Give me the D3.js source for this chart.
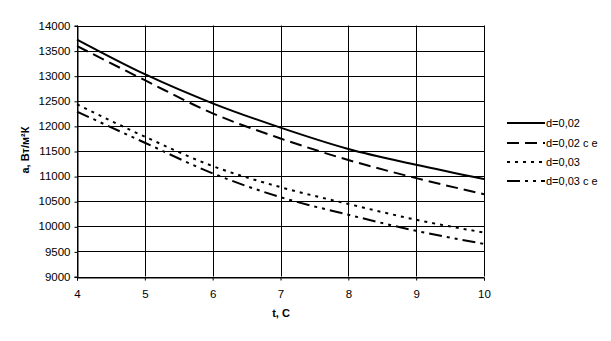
<!DOCTYPE html>
<html>
<head>
<meta charset="utf-8">
<script src="https://cdn.jsdelivr.net/npm/d3@7"></script>
<style>
  body { margin: 0; background: #fff; }
  text { font-family: "Liberation Sans", Arial, sans-serif; }
</style>
</head>
<body>
<div id="chart"></div>
<script>
// data
var tValues = [4, 5, 6, 7, 8, 9, 10];
var d002 = [13720, 13030, 12450, 11965, 11540, 11225, 10940];
var d002ce = [13590, 12910, 12250, 11750, 11320, 10960, 10640];
var d003 = [12430, 11785, 11200, 10780, 10445, 10130, 9875];
var d003ce = [12285, 11665, 11055, 10580, 10230, 9910, 9650];
var seriesNames = ['d=0,02', 'd=0,02 c e', 'd=0,03', 'd=0,03 c e'];
var yTicks = [9000, 9500, 10000, 10500, 11000, 11500, 12000, 12500, 13000, 13500, 14000];

var width = 611, height = 341;
var margin = {left: 77, right: 127, top: 25.5, bottom: 64.5};

var svg = d3.select('#chart').append('svg').attr('width', width).attr('height', height);

var x = d3.scaleLinear().domain([4, 10]).range([margin.left, width - margin.right]);
var y = d3.scaleLinear().domain([9000, 14000]).range([height - margin.bottom, margin.top]);

// grid
svg.append('g').selectAll('line.h').data(yTicks).enter().append('line')
  .attr('x1', x(4)).attr('x2', x(10))
  .attr('y1', function(d) { return Math.round(y(d)) + 0.5; })
  .attr('y2', function(d) { return Math.round(y(d)) + 0.5; })
  .attr('stroke', '#000').attr('stroke-width', 1);
svg.append('g').selectAll('line.v').data(tValues).enter().append('line')
  .attr('x1', function(d) { return Math.round(x(d)) + 0.5; })
  .attr('x2', function(d) { return Math.round(x(d)) + 0.5; })
  .attr('y1', y(14000)).attr('y2', y(9000))
  .attr('stroke', '#000').attr('stroke-width', 1);

// axes
var yAxis = d3.axisLeft(y).tickValues(yTicks).tickSize(3).tickPadding(4).tickFormat(d3.format('d'));
var xAxis = d3.axisBottom(x).tickValues(tValues).tickSize(3).tickPadding(9).tickFormat(d3.format('d'));
var gy = svg.append('g').attr('transform', 'translate(' + (Math.round(x(4)) + 0.5) + ',0)').call(yAxis);
var gx = svg.append('g').attr('transform', 'translate(0,' + (Math.round(y(9000)) + 0.5) + ')').call(xAxis);
[gy, gx].forEach(function(g) {
  g.select('.domain').attr('stroke', '#000');
  g.selectAll('.tick line').attr('stroke', '#000');
  g.selectAll('.tick text').attr('fill', '#000').style('font-size', '11.5px')
    .style('font-family', '"Liberation Sans", Arial, sans-serif');
});
gy.selectAll('.tick line').attr('transform', 'translate(0,0.5)');

// axis titles
svg.append('text').attr('x', 281).attr('y', 317).attr('text-anchor', 'middle')
  .style('font-size', '11px').style('font-weight', 'bold').text('t, C');
svg.append('text').attr('transform', 'translate(29,150) rotate(-90)').attr('text-anchor', 'middle')
  .style('font-size', '11px').style('font-weight', 'bold').text('a, Вт/м²К');

// lines
var styles = [
  {data: d002, dash: null},
  {data: d002ce, dash: '12,6'},
  {data: d003, dash: '3,5'},
  {data: d003ce, dash: '13,5,3,5,3,5'}
];
var line = d3.line()
  .x(function(d, i) { return x(tValues[i]); })
  .y(function(d) { return y(d); })
  .curve(d3.curveMonotoneX);

styles.forEach(function(s) {
  svg.append('path').datum(s.data)
    .attr('d', line)
    .attr('fill', 'none')
    .attr('stroke', '#000')
    .attr('stroke-width', 2)
    .attr('stroke-dasharray', s.dash);
});

// legend
var legendY = [123, 143, 162, 181];
var legend = svg.append('g');
seriesNames.forEach(function(name, i) {
  legend.append('line')
    .attr('x1', 507).attr('x2', 545)
    .attr('y1', legendY[i]).attr('y2', legendY[i])
    .attr('stroke', '#000').attr('stroke-width', 2)
    .attr('stroke-dasharray', styles[i].dash);
  legend.append('text')
    .attr('x', 546).attr('y', legendY[i] + 4)
    .style('font-size', '11px').text(name);
});
</script>
</body>
</html>
